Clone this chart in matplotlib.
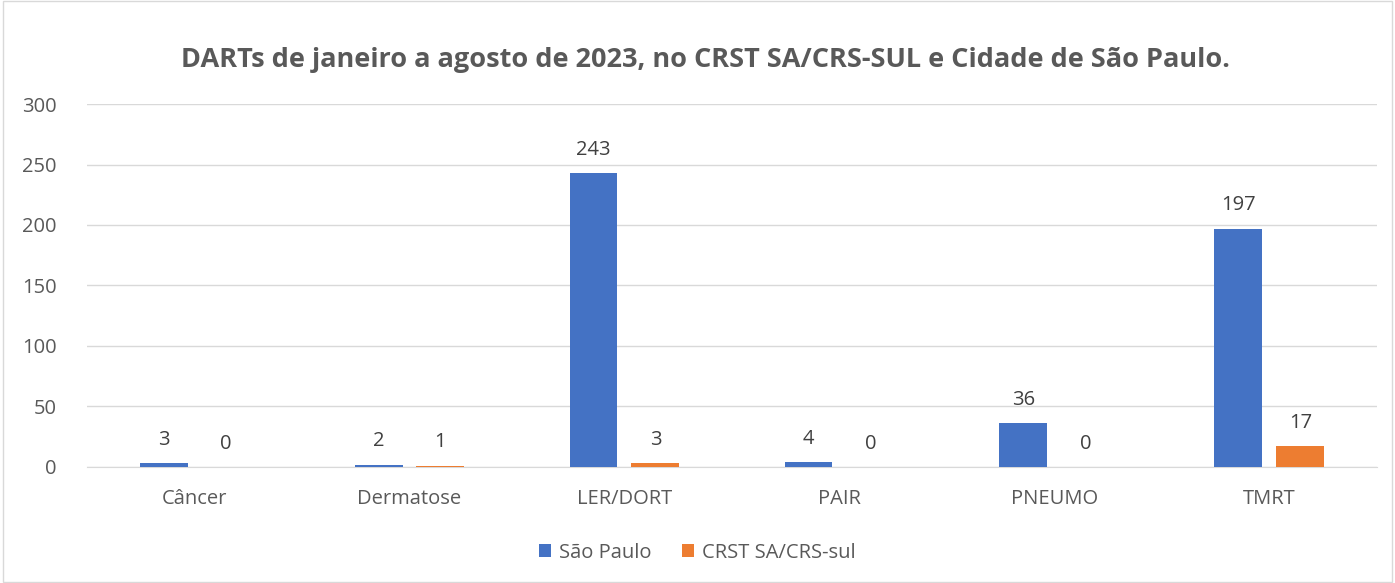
import matplotlib
matplotlib.use("Agg")
import matplotlib.pyplot as plt
import numpy as np
from matplotlib.patches import Rectangle

categorias = ["Câncer", "Dermatose", "LER/DORT", "PAIR", "PNEUMO", "TMRT"]
sao_paulo = [3, 2, 243, 4, 36, 197]
crst = [0, 1, 3, 0, 0, 17]

plt.rcParams['font.family'] = ['Open Sans', 'DejaVu Sans']

fig = plt.figure(figsize=(13.95, 5.83), dpi=100)
ax = fig.add_axes([0.0624, 0.199, 0.9246, 0.6226])

x = np.arange(len(categorias))
w = 0.223
off = 0.144
b1 = ax.bar(x - off, sao_paulo, w, color="#4472C4", label="São Paulo", zorder=3)
b2 = ax.bar(x + off, crst, w, color="#ED7D31", label="CRST SA/CRS-sul", zorder=3)

for bars, vals in ((b1, sao_paulo), (b2, crst)):
    for r, v in zip(bars, vals):
        ax.text(r.get_x() + r.get_width() / 2, v + 11, str(v), ha="center", va="bottom",
                fontsize=14.5, color="#404040")

ax.set_xlim(-0.5, len(categorias) - 0.5)
ax.set_ylim(0, 300)
ax.set_yticks(range(0, 301, 50))
ax.set_xticks(x)
ax.set_xticklabels(categorias)
ax.tick_params(axis="both", length=0, labelsize=14.5, labelcolor="#595959")
ax.tick_params(axis="y", pad=22)
ax.tick_params(axis="x", pad=16)
ax.grid(axis="y", color="#D9D9D9", linewidth=1, zorder=0)
for s in ["top", "right", "left"]:
    ax.spines[s].set_visible(False)
ax.spines["bottom"].set_color("#D9D9D9")

fig.suptitle("DARTs de janeiro a agosto de 2023, no CRST SA/CRS-SUL e Cidade de São Paulo.",
             y=0.92, x=0.506, fontsize=19.5, fontweight="bold", color="#595959")

fig.legend(loc="center", bbox_to_anchor=(0.5, 0.052), ncol=2, frameon=False,
           fontsize=14.5, labelcolor="#595959", handlelength=0.6, handleheight=0.6,
           columnspacing=1.5, handletextpad=0.4)

fig.patches.append(Rectangle((0.002, 0.002), 0.996, 0.996, transform=fig.transFigure,
                             fill=False, edgecolor="#D9D9D9", linewidth=1))

fig.savefig("out.png", dpi=100)
